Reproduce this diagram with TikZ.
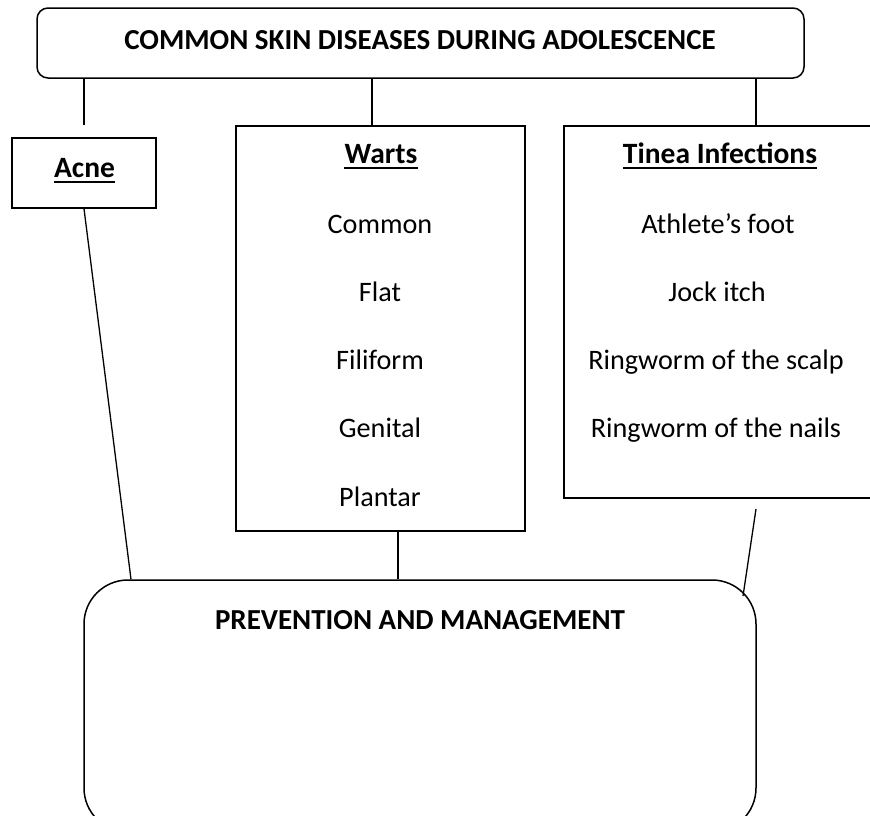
\documentclass[tikz,border=0pt]{standalone}
\usepackage{fontspec}
\setmainfont{Carlito}
\begin{document}
\begin{tikzpicture}[x=1pt,y=-1pt,
  box/.style={draw=black, line width=1.5pt, inner sep=0pt},
  rbox/.style={box, rounded corners=#1},
  conn/.style={draw=black, line width=1.3pt},
  uline/.style={draw=black, line width=2.4pt},
  ttl/.style={font=\fontsize{29}{32}\selectfont\bfseries, anchor=base, inner sep=0pt},
  hd/.style={font=\fontsize{29.5}{32}\selectfont\bfseries, anchor=base, inner sep=0pt},
  item/.style={font=\fontsize{28.2}{32}\selectfont, anchor=base, inner sep=0pt}]
\clip (0,0) rectangle (870,815);
\fill[white] (0,0) rectangle (870,815);
% boxes
\node[rbox=11pt, minimum width=767pt, minimum height=70pt] (title) at (420.5,43) {};
\node[box, minimum width=144pt, minimum height=70pt] (acne) at (84,173) {};
\node[box, minimum width=289pt, minimum height=405pt] (warts) at (380.5,328.5) {};
\node[box, minimum width=336pt, minimum height=372pt] (tinea) at (732,312) {};
\node[rbox=44pt, minimum width=672pt, minimum height=252pt] (prev) at (420,706) {};
% texts
\node[ttl] (ttltext) at (420,49) {COMMON SKIN DISEASES DURING ADOLESCENCE};
\node[hd] (acnetext) at (84.5,177) {Acne};
\node[hd] (wartstext) at (381,163) {Warts};
\node[item] (w1) at (380,233) {Common};
\node[item] (w2) at (380,301) {Flat};
\node[item] (w3) at (380,369) {Filiform};
\node[item] (w4) at (380,437) {Genital};
\node[item] (w5) at (380,506) {Plantar};
\node[hd] (tineatext) at (720,163) {Tinea Infections};
\node[item] (t1) at (718,233) {Athlete’s foot};
\node[item] (t2) at (717,301) {Jock itch};
\node[item] (t3) at (716,369) {Ringworm of the scalp};
\node[item] (t4) at (716,437) {Ringworm of the nails};
\node[ttl] (prevtext) at (420,629) {PREVENTION AND MANAGEMENT};
% underlines
\draw[uline] ([yshift=-5pt]acnetext.base west) -- ([yshift=-5pt]acnetext.base east);
\draw[uline] ([yshift=-5pt]wartstext.base west) -- ([yshift=-5pt]wartstext.base east);
\draw[uline] ([yshift=-5pt]tineatext.base west) -- ([yshift=-5pt]tineatext.base east);
% connector coordinates
\coordinate (wt) at (372,126);
\coordinate (tt) at (756,126);
\coordinate (pa) at (131,580);
\coordinate (pw) at (398,580);
\coordinate (ts) at (756,509);
\coordinate (te) at (743,596);
% connectors
\draw[conn] (title.south -| acne.north) -- ([yshift=12pt]acne.north);
\draw[conn] (title.south -| wt) -- (wt);
\draw[conn] (title.south -| tt) -- (tt);
\draw[conn] (acne.south) -- (prev.north -| pa);
\draw[conn] (warts.south -| pw) -- (prev.north -| pw);
\draw[conn] (ts) -- (te);
\end{tikzpicture}
\end{document}
